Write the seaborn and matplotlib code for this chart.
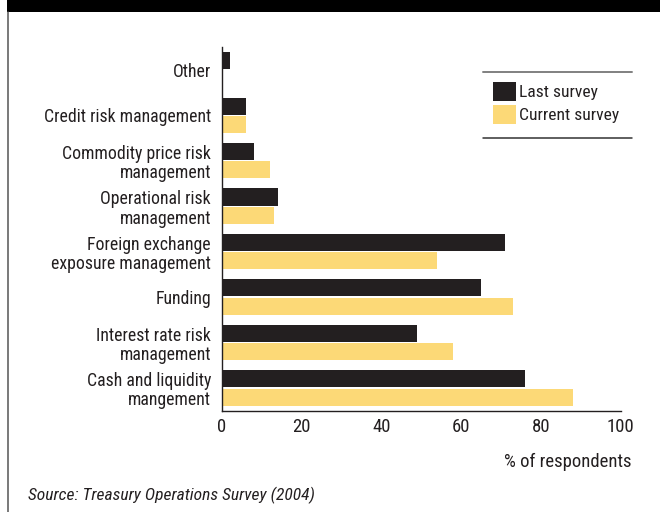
import numpy as np
import pandas as pd
import matplotlib
matplotlib.use("Agg")
import matplotlib.pyplot as plt
from matplotlib import font_manager
from matplotlib.lines import Line2D
from matplotlib.patches import Rectangle
import seaborn as sns

# Survey data: share of respondents per treasury activity
categories = [
    "Other",
    "Credit risk management",
    "Commodity price risk\nmanagement",
    "Operational risk\nmanagement",
    "Foreign exchange\nexposure management",
    "Funding",
    "Interest rate risk\nmanagement",
    "Cash and liquidity\nmangement",
]
last_survey = [2, 6, 8, 14, 71, 65, 49, 76]
current_survey = [0, 6, 12, 13, 54, 73, 58, 88]
series_names = ["Last survey", "Current survey"]
x_ticks = [0, 20, 40, 60, 80, 100]

DARK = "#231F20"
YELLOW = "#FCD977"
TEXT = "#231F20"

sns.set_theme(style="white")


def pick_family():
    """First narrow sans family available, else condensed DejaVu."""
    for fam in ["Roboto Condensed", "Archivo Narrow", "Liberation Sans Narrow",
                "Arial Narrow", "PT Sans Narrow", "Open Sans Condensed"]:
        try:
            path = font_manager.findfont(font_manager.FontProperties(family=fam),
                                         fallback_to_default=False)
            if path:
                return fam, "normal"
        except Exception:
            continue
    return "DejaVu Sans", "condensed"


FAMILY, STRETCH = pick_family()
plt.rcParams["font.family"] = [FAMILY, "DejaVu Sans"]
plt.rcParams["font.stretch"] = STRETCH

df = pd.DataFrame({
    "activity": categories * 2,
    "survey": [series_names[0]] * len(categories) + [series_names[1]] * len(categories),
    "value": last_survey + current_survey,
})

W, H = 660, 512
fig = plt.figure(figsize=(W / 100, H / 100), dpi=100)
ax = fig.add_axes([222 / W, 1 - 410.7 / H, (620.7 - 222) / W, (410.7 - 47) / H])

sns.barplot(
    data=df, y="activity", x="value", hue="survey", orient="h",
    order=categories, hue_order=series_names,
    palette=[DARK, YELLOW], width=0.8, gap=0.06,
    saturation=1, linewidth=0, ax=ax,
)

ax.set_xlim(0, 100)
ax.set_ylim(len(categories) - 0.5, -0.5)
ax.set_xticks(x_ticks)
ax.set_xticklabels([str(t) for t in x_ticks])
ax.set_xlabel("")
ax.set_ylabel("")
ax.grid(False)

for side in ["top", "right"]:
    ax.spines[side].set_visible(False)
for side in ["left", "bottom"]:
    ax.spines[side].set_color(DARK)
    ax.spines[side].set_linewidth(1.0)

ax.tick_params(axis="y", length=0, colors=TEXT, labelsize=12.8, pad=8)
ax.tick_params(axis="x", length=0, colors=TEXT, labelsize=13.5, pad=5)
for lab in ax.get_yticklabels():
    lab.set_linespacing(1.1)
    lab.set_horizontalalignment("right")

handles, labels = ax.get_legend_handles_labels()
ax.legend(
    handles, labels, loc="upper left",
    bbox_to_anchor=(493 / W, 1 - 82 / H), bbox_transform=fig.transFigure,
    frameon=False, fontsize=12.6, handlelength=1.3, handleheight=1.3,
    handletextpad=0.2, labelspacing=0.2, borderpad=0, borderaxespad=0,
    labelcolor=TEXT,
)

# rules above and below the legend
fig.add_artist(Line2D([483 / W, 632 / W], [1 - 72 / H] * 2,
                      transform=fig.transFigure, color="#808080", lw=1.4))
fig.add_artist(Line2D([483 / W, 632 / W], [1 - 137.5 / H] * 2,
                      transform=fig.transFigure, color="#333333", lw=1.1))

# header band and left border
fig.add_artist(Rectangle((7 / W, 1 - 12 / H), 1, 12 / H,
                         transform=fig.transFigure, color="black", lw=0))
fig.add_artist(Line2D([7.5 / W, 7.5 / W], [0, 1 - 12 / H],
                      transform=fig.transFigure, color="#555555", lw=1.1))

fig.text(631 / W, 1 - 462 / H, "% of respondents", ha="right", va="center",
         fontsize=13.4, color=TEXT)
fig.text(28 / W, 1 - 495 / H, "Source: Treasury Operations Survey (2004)",
         ha="left", va="center", fontsize=12.6, style="italic", color=TEXT)

fig.savefig("out.png", dpi=100, facecolor="white")
